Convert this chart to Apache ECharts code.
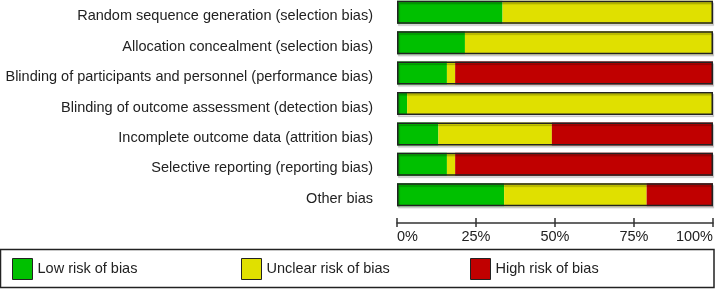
<!DOCTYPE html>
<html>
<head>
<meta charset="utf-8">
<script src="https://cdn.jsdelivr.net/npm/echarts@6/dist/echarts.min.js"></script>
<style>
  html, body { margin: 0; padding: 0; background: #fff; }
  #chart { width: 715px; height: 289px; }
</style>
</head>
<body>
<div id="chart"></div>
<script>
const categories = [
  'Random sequence generation (selection bias)',
  'Allocation concealment (selection bias)',
  'Blinding of participants and personnel (performance bias)',
  'Blinding of outcome assessment (detection bias)',
  'Incomplete outcome data (attrition bias)',
  'Selective reporting (reporting bias)',
  'Other bias'
]
// percentages per domain
const lowRisk     = [33.4, 21.5, 15.8, 3.2, 13.1, 15.8, 33.9]
const unclearRisk = [66.6, 78.5,  2.6, 96.8, 35.9,  2.6, 45.1]
const highRisk    = [   0,    0, 81.6,    0, 51.0, 81.6, 21.0]
const xTicks = ['0%', '25%', '50%', '75%', '100%']

const seriesNames = ['Low risk of bias', 'Unclear risk of bias', 'High risk of bias']
const colors = ['#00c000', '#e0e000', '#c00000']
const legendLeft = [12, 241, 470]

const chart = echarts.init(document.getElementById('chart'), null, { renderer: 'canvas' })

const stacked = [lowRisk, unclearRisk, highRisk].map((d, i) => ({
  name: seriesNames[i],
  type: 'bar',
  stack: 'risk',
  barWidth: 23,
  data: d,
  itemStyle: { color: colors[i] },
  emphasis: { disabled: true },
  silent: true,
}))

// one legend per item so they sit at fixed spots like the original
const legends = seriesNames.map((n, i) => ({
  data: [n],
  left: legendLeft[i],
  top: 258,
  padding: 0,
  itemWidth: 20,
  itemHeight: 21,
  itemTextGap: 4,
  icon: 'rect',
  selectedMode: false,
  itemStyle: { borderColor: '#222', borderWidth: 1 },
  textStyle: { fontSize: 14.5, color: '#222' },
}))

chart.setOption({
  animation: false,
  textStyle: { fontFamily: 'Liberation Sans, Arial, sans-serif' },
  grid: { left: 397, right: 2, top: -3, bottom: 79, outerBoundsMode: 'none' },
  legend: legends,
  xAxis: [
    {
      type: 'value',
      min: 0, max: 100, interval: 25,
      position: 'bottom',
      offset: 13,
      splitLine: { show: false },
      axisLine: { show: true, lineStyle: { color: '#333', width: 1.5 } },
      axisTick: { show: true, length: 4, lineStyle: { color: '#333', width: 1.5 } },
      axisLabel: {
        fontSize: 14.5, color: '#222', margin: 6,
        alignMinLabel: 'left', alignMaxLabel: 'right',
        formatter: v => xTicks[v / 25]
      },
    },
    {
      type: 'value',
      min: 0, max: 100, interval: 25,
      position: 'bottom',
      offset: 13,
      splitLine: { show: false },
      axisLine: { show: false },
      axisTick: { show: true, inside: true, length: 5, lineStyle: { color: '#333', width: 1.5 } },
      axisLabel: { show: false },
    }
  ],
  yAxis: {
    type: 'category',
    data: categories,
    inverse: true,
    axisLine: { show: false },
    axisTick: { show: false },
    // labels sit a little below the bar centres in the original
    axisLabel: { fontSize: 14.5, color: '#222', margin: 24, verticalAlign: 'top', lineHeight: 8 },
  },
  graphic: [{
    type: 'rect',
    shape: { x: 0.5, y: 249.5, width: 713.5, height: 38 },
    style: { fill: 'none', stroke: '#222', lineWidth: 1.5 },
    silent: true,
  }],
  series: stacked.concat([{
    name: 'outline',
    type: 'bar',
    barWidth: 23,
    barGap: '-100%',
    data: categories.map(() => 100),
    itemStyle: {
      color: 'rgba(0,0,0,0)',
      borderColor: '#222',
      borderWidth: 1.5,
      shadowColor: 'rgba(0,0,0,0.25)',
      shadowOffsetX: 1,
      shadowOffsetY: 2,
      shadowBlur: 1,
    },
    z: 5,
    silent: true,
  }]),
})
</script>
</body>
</html>
